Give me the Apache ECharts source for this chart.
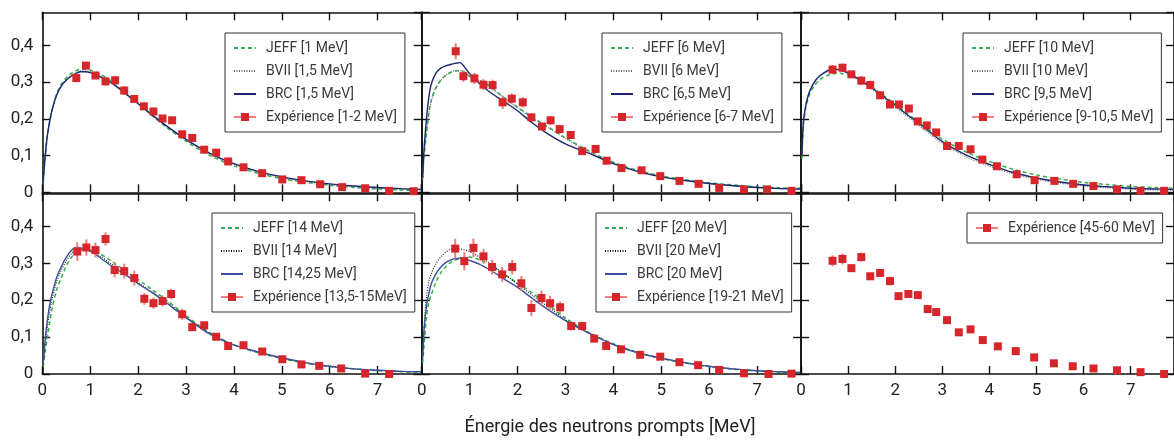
<!DOCTYPE html>
<html><head><meta charset="utf-8">
<script src="https://cdn.jsdelivr.net/npm/echarts@6/dist/echarts.min.js"></script>
<style>html,body{margin:0;padding:0;background:#fff}#c{width:1174px;height:440px}</style>
</head><body><div id="c"></div>
<script>
// ---- data ----
const xTicks = [0,1,2,3,4,5,6,7];
const yTicks = [0,0.1,0.2,0.3,0.4];
const curveE = [0.02,0.05,0.1,0.15,0.2,0.3,0.4,0.5,0.6,0.7,0.8,0.9,1.0,1.2,1.4,1.6,1.8,2.0,2.3,2.6,3.0,3.5,4.0,4.5,5.0,5.5,6.0,6.5,7.0,7.5,7.9];

const jeff1 = [0.03,0.08,0.145,0.19,0.222,0.268,0.295,0.312,0.323,0.331,0.335,0.335,0.333,0.322,0.306,0.286,0.264,0.242,0.208,0.176,0.139,0.1,0.072,0.052,0.037,0.027,0.019,0.013,0.009,0.006,0.005];
const bvii1 = [0.03,0.085,0.15,0.19,0.223,0.267,0.292,0.308,0.319,0.326,0.331,0.331,0.329,0.318,0.303,0.284,0.263,0.241,0.209,0.178,0.142,0.104,0.076,0.055,0.04,0.029,0.021,0.015,0.011,0.008,0.006];
const brc1  = [0.03,0.085,0.15,0.19,0.222,0.265,0.29,0.305,0.316,0.323,0.328,0.328,0.326,0.315,0.301,0.283,0.262,0.241,0.21,0.18,0.144,0.106,0.078,0.057,0.042,0.031,0.023,0.017,0.013,0.01,0.008];
const expE1 = [0.71,0.91,1.11,1.32,1.52,1.71,1.92,2.12,2.32,2.51,2.71,2.92,3.13,3.38,3.63,3.88,4.20,4.59,5.01,5.41,5.80,6.26,6.74,7.24,7.75];
const expY1 = [0.311,0.345,0.318,0.302,0.305,0.277,0.254,0.234,0.220,0.201,0.196,0.158,0.148,0.116,0.108,0.084,0.068,0.052,0.035,0.033,0.022,0.014,0.011,0.004,0.003];
const expErr1 = [0.012,0.01,0.01,0.012,0.012,0.012,0.01,0.01,0.01,0.008,0.008,0.008,0.008,0.006,0.006,0.005,0.005,0.004,0.004,0.003,0.003,0.002,0.002,0.002,0.002];

const jeff2 = [0.035,0.1,0.16,0.215,0.25,0.285,0.305,0.318,0.326,0.33,0.331,0.327,0.316,0.305,0.291,0.27,0.25,0.232,0.205,0.181,0.148,0.112,0.082,0.06,0.045,0.034,0.026,0.02,0.015,0.012,0.011];
const bvii2 = [0.035,0.1,0.162,0.215,0.25,0.286,0.306,0.319,0.327,0.331,0.331,0.327,0.316,0.304,0.29,0.269,0.249,0.23,0.203,0.179,0.146,0.11,0.08,0.058,0.043,0.032,0.024,0.018,0.013,0.01,0.009];
const brc2  = [0.04,0.12,0.2,0.26,0.295,0.325,0.338,0.344,0.348,0.351,0.353,0.34,0.323,0.297,0.275,0.257,0.24,0.222,0.19,0.162,0.132,0.106,0.078,0.057,0.042,0.032,0.024,0.018,0.013,0.01,0.009];
const expE2 = [0.71,0.87,1.10,1.29,1.48,1.69,1.88,2.11,2.29,2.51,2.69,2.88,3.11,3.35,3.63,3.86,4.17,4.59,4.98,5.38,5.78,6.21,6.73,7.21,7.72];
const expY2 = [0.384,0.316,0.310,0.293,0.292,0.245,0.255,0.245,0.204,0.179,0.196,0.172,0.156,0.112,0.118,0.086,0.066,0.060,0.044,0.031,0.023,0.012,0.008,0.008,0.004];
const expErr2 = [0.022,0.015,0.015,0.015,0.015,0.018,0.014,0.014,0.01,0.01,0.012,0.012,0.01,0.008,0.008,0.006,0.004,0.004,0.003,0.003,0.002,0.002,0.002,0.002,0.002];

const jeff3 = [0.09,0.18,0.23,0.255,0.272,0.293,0.306,0.315,0.32,0.323,0.324,0.323,0.321,0.31,0.295,0.278,0.259,0.24,0.21,0.181,0.145,0.11,0.084,0.063,0.047,0.036,0.027,0.021,0.016,0.013,0.011];
const bvii3 = [0.1,0.19,0.236,0.263,0.281,0.304,0.318,0.327,0.333,0.335,0.334,0.33,0.324,0.308,0.291,0.272,0.252,0.232,0.202,0.172,0.133,0.097,0.071,0.05,0.035,0.025,0.017,0.012,0.008,0.006,0.005];
const brc3  = [0.1,0.19,0.235,0.262,0.28,0.303,0.317,0.326,0.333,0.335,0.334,0.33,0.325,0.31,0.294,0.275,0.256,0.237,0.207,0.178,0.138,0.102,0.076,0.054,0.039,0.028,0.02,0.015,0.011,0.009,0.008];
const expE3 = [0.67,0.88,1.07,1.28,1.47,1.68,1.89,2.08,2.29,2.48,2.67,2.87,3.10,3.35,3.60,3.85,4.16,4.58,4.96,5.38,5.78,6.21,6.71,7.21,7.71];
const expY3 = [0.334,0.339,0.321,0.304,0.292,0.264,0.239,0.239,0.228,0.193,0.182,0.163,0.126,0.126,0.117,0.089,0.071,0.049,0.033,0.031,0.023,0.017,0.008,0.004,0.004];
const expErr3 = [0.012,0.012,0.01,0.012,0.012,0.01,0.01,0.01,0.01,0.008,0.008,0.008,0.008,0.008,0.006,0.005,0.004,0.003,0.003,0.002,0.002,0.002,0.002,0.002,0.002];

const jeff4 = [0.02,0.05,0.095,0.135,0.175,0.228,0.262,0.293,0.315,0.328,0.335,0.337,0.336,0.326,0.31,0.292,0.274,0.256,0.228,0.2,0.158,0.112,0.079,0.058,0.042,0.029,0.02,0.014,0.009,0.006,0.005];
const bvii4 = [0.025,0.065,0.12,0.165,0.2,0.25,0.283,0.307,0.325,0.336,0.339,0.338,0.334,0.32,0.302,0.284,0.266,0.248,0.222,0.195,0.155,0.11,0.079,0.059,0.043,0.03,0.021,0.014,0.01,0.007,0.006];
const brc4  = [0.03,0.08,0.14,0.185,0.215,0.262,0.292,0.316,0.334,0.343,0.342,0.338,0.333,0.316,0.297,0.28,0.263,0.245,0.22,0.192,0.153,0.108,0.079,0.06,0.044,0.031,0.021,0.014,0.01,0.007,0.006];
const expE4 = [0.73,0.92,1.11,1.32,1.51,1.71,1.92,2.13,2.32,2.51,2.69,2.92,3.13,3.38,3.63,3.88,4.20,4.59,5.01,5.41,5.78,6.24,6.74,7.24];
const expY4 = [0.332,0.343,0.336,0.366,0.282,0.279,0.260,0.204,0.192,0.198,0.217,0.162,0.127,0.132,0.101,0.076,0.078,0.061,0.040,0.026,0.022,0.015,0.001,0.0];
const expErr4 = [0.025,0.022,0.02,0.018,0.02,0.02,0.02,0.016,0.015,0.015,0.014,0.015,0.01,0.01,0.01,0.01,0.01,0.008,0.005,0.004,0.004,0.003,0.002,0.002];

const jeff5 = [0.03,0.08,0.156,0.195,0.215,0.25,0.275,0.29,0.302,0.309,0.313,0.316,0.317,0.31,0.297,0.281,0.264,0.247,0.22,0.192,0.152,0.112,0.082,0.059,0.042,0.03,0.02,0.013,0.008,0.005,0.004];
const bvii5 = [0.05,0.13,0.21,0.25,0.272,0.3,0.318,0.33,0.338,0.34,0.339,0.336,0.332,0.318,0.302,0.283,0.263,0.244,0.214,0.186,0.148,0.11,0.08,0.058,0.042,0.03,0.021,0.014,0.009,0.006,0.004];
const brc5  = [0.04,0.12,0.185,0.218,0.245,0.272,0.29,0.302,0.309,0.313,0.314,0.312,0.308,0.298,0.284,0.268,0.251,0.235,0.206,0.178,0.145,0.11,0.08,0.058,0.043,0.031,0.021,0.014,0.009,0.006,0.004];
const expE5 = [0.70,0.89,1.08,1.29,1.47,1.68,1.89,2.08,2.29,2.50,2.68,2.89,3.12,3.35,3.60,3.85,4.16,4.56,4.98,5.38,5.77,6.21,6.73,7.24,7.72];
const expY5 = [0.340,0.306,0.342,0.319,0.290,0.270,0.290,0.246,0.179,0.206,0.192,0.181,0.130,0.130,0.096,0.076,0.067,0.052,0.047,0.032,0.024,0.011,0.002,0.0,0.001];
const expErr5 = [0.027,0.025,0.025,0.02,0.02,0.02,0.02,0.02,0.022,0.02,0.02,0.015,0.012,0.012,0.01,0.01,0.008,0.006,0.005,0.004,0.004,0.003,0.003,0.002,0.002];

const expE6 = [0.67,0.88,1.07,1.28,1.47,1.68,1.89,2.07,2.28,2.48,2.69,2.87,3.10,3.35,3.60,3.86,4.18,4.56,4.95,5.37,5.77,6.21,6.71,7.21,7.71];
const expY6 = [0.307,0.312,0.287,0.317,0.265,0.274,0.252,0.211,0.217,0.214,0.176,0.168,0.146,0.113,0.121,0.092,0.075,0.062,0.045,0.029,0.021,0.015,0.010,0.005,0.0];
const expErr6 = [0.015,0.015,0.01,0.012,0.01,0.01,0.012,0.01,0.01,0.008,0.01,0.01,0.008,0.008,0.006,0.004,0.003,0.003,0.002,0.002,0.002,0.002,0.002,0.002,0.002];

const names1 = ['JEFF [1 MeV]','BVII [1,5 MeV]','BRC [1,5 MeV]','Expérience [1-2 MeV]'];
const names2 = ['JEFF [6 MeV]','BVII [6 MeV]','BRC [6,5 MeV]','Expérience [6-7 MeV]'];
const names3 = ['JEFF [10 MeV]','BVII [10 MeV]','BRC [9,5 MeV]','Expérience [9-10,5 MeV]'];
const names4 = ['JEFF [14 MeV]','BVII [14 MeV]','BRC [14,25 MeV]','Expérience [13,5-15MeV]'];
const names5 = ['JEFF [20 MeV]','BVII [20 MeV]','BRC [20 MeV]','Expérience [19-21 MeV]'];
const names6 = ['Expérience [45-60 MeV]'];
const xTitle = 'Énergie des neutrons prompts [MeV]';

// ---- layout ----
const FONT = 'Roboto';
const colLeft = [42.3, 421.7, 801];
const rowTop = [12.3, 193.3];
const rowH = [180, 180.7];
const gridW = 379.4;
const X_MAX = 7.92, Y_MAX = 0.49;
const C_JEFF = '#2fb04a', C_EXP = '#d7262b', C_ERR = '#ef7d7d';

const panels = [
  {r:0,c:0,jeff:jeff1,bvii:bvii1,brc:brc1,e:expE1,y:expY1,err:expErr1,names:names1,brcC:'#1c2674',bviiC:'#666',leg:[225,33]},
  {r:0,c:1,jeff:jeff2,bvii:bvii2,brc:brc2,e:expE2,y:expY2,err:expErr2,names:names2,brcC:'#1c2674',bviiC:'#666',leg:[602,33]},
  {r:0,c:2,jeff:jeff3,bvii:bvii3,brc:brc3,e:expE3,y:expY3,err:expErr3,names:names3,brcC:'#1c2674',bviiC:'#666',leg:[963,33]},
  {r:1,c:0,jeff:jeff4,bvii:bvii4,brc:brc4,e:expE4,y:expY4,err:expErr4,names:names4,brcC:'#3c4e9e',bviiC:'#111',leg:[212,213]},
  {r:1,c:1,jeff:jeff5,bvii:bvii5,brc:brc5,e:expE5,y:expY5,err:expErr5,names:names5,brcC:'#3c4e9e',bviiC:'#111',leg:[596,213]},
  {r:1,c:2,e:expE6,y:expY6,err:expErr6,names:names6,leg:[967,213]}
];

const grid=[], xAxis=[], yAxis=[], series=[], legend=[];
const zip = (a,b) => a.map((v,i)=>[v,b[i]]);
const tickCommon = {show:true,inside:true,length:8,lineStyle:{color:'#111',width:1.4}};
const lineCommon = {show:true,onZero:false,lineStyle:{color:'#111',width:1.6}};
const fmtX = v => Number.isInteger(v) && xTicks.includes(v) ? String(v) : '';
const fmtY = v => { const t = Math.round(v*10); if (Math.abs(v*10-t)>1e-6 || !yTicks.includes(t/10)) return ''; return t===0?'0':(t/10).toFixed(1).replace('.',','); };

panels.forEach((p,gi)=>{
  grid.push({left:colLeft[p.c], top:rowTop[p.r], width:gridW, height:rowH[p.r], containLabel:false});
  const bx = xAxis.length;
  xAxis.push({type:'value',gridIndex:gi,position:'bottom',min:0,max:X_MAX,interval:1,axisLine:lineCommon,axisTick:tickCommon,splitLine:{show:false},
    axisLabel:{show:p.r===1,formatter:fmtX,showMaxLabel:false,margin:8,color:'#222',fontSize:17,fontFamily:FONT}});
  xAxis.push({type:'value',gridIndex:gi,position:'top',min:0,max:X_MAX,interval:1,axisLine:lineCommon,axisTick:tickCommon,splitLine:{show:false},axisLabel:{show:false}});
  const by = yAxis.length;
  yAxis.push({type:'value',gridIndex:gi,position:'left',min:0,max:Y_MAX,interval:0.1,axisLine:lineCommon,axisTick:tickCommon,splitLine:{show:false},
    axisLabel:{show:p.c===0,formatter:fmtY,showMaxLabel:false,margin:9,color:'#222',fontSize:17,fontFamily:FONT}});
  yAxis.push({type:'value',gridIndex:gi,position:'right',min:0,max:Y_MAX,interval:0.1,axisLine:lineCommon,axisTick:tickCommon,splitLine:{show:false},axisLabel:{show:false}});
  const legData = [];
  if (p.jeff) {
    series.push({type:'line',name:p.names[0],xAxisIndex:bx,yAxisIndex:by,data:zip(curveE,p.jeff),symbol:'none',smooth:0.3,z:3,
      lineStyle:{color:C_JEFF,width:1.5,type:[4,3]},itemStyle:{color:C_JEFF}});
    series.push({type:'line',name:p.names[1],xAxisIndex:bx,yAxisIndex:by,data:zip(curveE,p.bvii),symbol:'none',smooth:0.3,z:3,
      lineStyle:{color:p.bviiC,width:1.1,type:[1,1.5]},itemStyle:{color:p.bviiC}});
    series.push({type:'line',name:p.names[2],xAxisIndex:bx,yAxisIndex:by,data:zip(curveE,p.brc),symbol:'none',smooth:0.3,z:3,
      lineStyle:{color:p.brcC,width:1.4},itemStyle:{color:p.brcC}});
    const hide = {opacity:0, borderWidth:0};
    legData.push({name:p.names[0],itemStyle:hide},{name:p.names[1],itemStyle:hide},{name:p.names[2],itemStyle:hide});
  }
  const expName = p.names[p.names.length-1];
  const errData = p.e.map((x,i)=>[x,p.y[i],p.err[i]]);
  series.push({type:'custom',name:expName+' err',xAxisIndex:bx,yAxisIndex:by,data:errData,z:4,silent:true,
    renderItem:(params,api)=>{
      const x=api.value(0), y=api.value(1), e=api.value(2);
      const a=api.coord([x,y-e]), b=api.coord([x,y+e]);
      return {type:'line',shape:{x1:a[0],y1:a[1],x2:b[0],y2:b[1]},style:{stroke:C_ERR,lineWidth:2}};
    }});
  series.push({type:'line',name:expName,xAxisIndex:bx,yAxisIndex:by,data:zip(p.e,p.y),symbol:'rect',symbolSize:8,showSymbol:true,z:5,
    lineStyle:{width:0,opacity:0,color:C_ERR},itemStyle:{color:C_EXP}});
  legData.push({name:expName,lineStyle:{opacity:1,width:2,color:C_ERR},itemStyle:{color:C_EXP}});
  legend.push({data:legData,orient:'vertical',left:p.leg[0],top:p.leg[1],itemWidth:22,itemHeight:10,itemGap:9,
    padding:[8,8,8,8],borderColor:'#333',borderWidth:1,backgroundColor:'#fff',selectedMode:false,
    textStyle:{fontSize:14,color:'#3a3a3a',fontFamily:FONT,padding:[0,0,0,5]}});
});

const chart = echarts.init(document.getElementById('c'),null,{renderer:'canvas'});
chart.setOption({
  animation:false,
  grid, xAxis, yAxis, series, legend,
  graphic:[{type:'text',x:610,y:427,style:{text:xTitle,fontSize:18,fontFamily:FONT,fill:'#222',textAlign:'center',textVerticalAlign:'middle'}}]
});
</script></body></html>
